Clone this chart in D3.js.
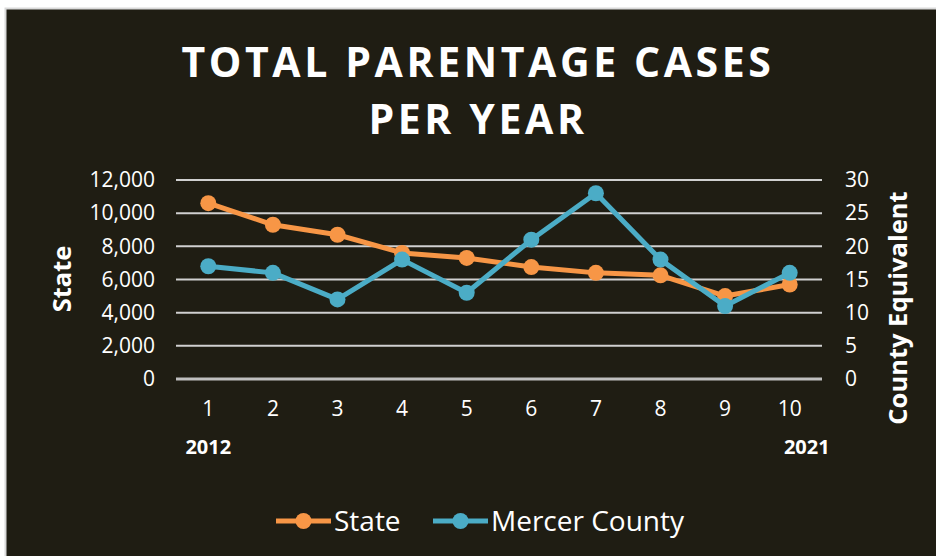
<!DOCTYPE html>
<html>
<head>
<meta charset="utf-8">
<script src="https://cdn.jsdelivr.net/npm/d3@7"></script>
<style>
  html, body { margin: 0; padding: 0; background: #fff; }
  svg { display: block; }
  text { font-family: "Open Sans", sans-serif; fill: #fff; }
</style>
</head>
<body>
<script>
const years = [1, 2, 3, 4, 5, 6, 7, 8, 9, 10];
const stateCases = [10600, 9300, 8700, 7600, 7300, 6750, 6400, 6250, 5000, 5700];
const mercerCases = [17, 16, 12, 18, 13, 21, 28, 18, 11, 16];
const leftTicks = [0, 2000, 4000, 6000, 8000, 10000, 12000];
const rightTicks = [0, 5, 10, 15, 20, 25, 30];
const titleLines = ['TOTAL PARENTAGE CASES', 'PER YEAR'];

const width = 936, height = 556;
const bg = '#1f1d13';
const orange = '#f79646';
const blue = '#4bacc6';

const svg = d3.select('body').append('svg')
  .attr('width', width)
  .attr('height', height);

// outer frame
svg.append('rect')
  .attr('x', 5.5).attr('y', 8.5)
  .attr('width', width).attr('height', height)
  .attr('fill', bg)
  .attr('stroke', '#d9d9d9')
  .attr('stroke-width', 2);

const plot = { left: 176, right: 822, top: 180, bottom: 379 };

const x = d3.scaleBand()
  .domain(years)
  .range([plot.left, plot.right]);

const yLeft = d3.scaleLinear()
  .domain([0, 12000])
  .range([plot.bottom, plot.top]);

const yRight = d3.scaleLinear()
  .domain([0, 30])
  .range([plot.bottom, plot.top]);

// title
svg.append('g').selectAll('text')
  .data(titleLines)
  .join('text')
  .attr('x', 478)
  .attr('y', (d, i) => 77 + i * 57)
  .attr('text-anchor', 'middle')
  .attr('font-size', 41)
  .attr('font-weight', 700)
  .attr('letter-spacing', 3.6)
  .text((d) => d);

// gridlines
svg.append('g').selectAll('line')
  .data(leftTicks)
  .join('line')
  .attr('x1', plot.left).attr('x2', plot.right)
  .attr('y1', (d) => yLeft(d)).attr('y2', (d) => yLeft(d))
  .attr('stroke', (d) => d === 0 ? '#bfbfbf' : '#d0d0d0')
  .attr('stroke-width', (d) => d === 0 ? 3 : 2);

const styleTicks = (g) => {
  g.select('.domain').remove();
  g.selectAll('text')
    .attr('font-size', 21)
    .attr('font-family', 'Lato, sans-serif')
    .attr('fill', '#fff');
};

// left axis
svg.append('g')
  .attr('transform', `translate(${plot.left},0)`)
  .call(d3.axisLeft(yLeft).tickValues(leftTicks).tickFormat(d3.format(',')).tickSize(0).tickPadding(21))
  .call(styleTicks);

// right axis
svg.append('g')
  .attr('transform', `translate(${plot.right},0)`)
  .call(d3.axisRight(yRight).tickValues(rightTicks).tickSize(0).tickPadding(23))
  .call(styleTicks);

// bottom axis
svg.append('g')
  .attr('transform', `translate(0,${plot.bottom})`)
  .call(d3.axisBottom(x).tickSize(0).tickPadding(22))
  .call(styleTicks);

// year labels under first and last category
svg.append('text')
  .attr('x', x(years[0]) + x.bandwidth() / 2)
  .attr('y', 454)
  .attr('text-anchor', 'middle')
  .attr('font-size', 20)
  .attr('font-weight', 700)
  .attr('font-family', 'Lato, sans-serif')
  .text('2012');

svg.append('text')
  .attr('x', x(years[years.length - 1]) + x.bandwidth() / 2 + 40)
  .attr('y', 454)
  .attr('text-anchor', 'end')
  .attr('font-size', 20)
  .attr('font-weight', 700)
  .attr('font-family', 'Lato, sans-serif')
  .text('2021');

// axis titles
svg.append('text')
  .attr('transform', 'translate(71,279) rotate(-90)')
  .attr('text-anchor', 'middle')
  .attr('font-size', 25.5)
  .attr('font-weight', 700)
  .text('State');

svg.append('text')
  .attr('transform', 'translate(907,308) rotate(-90)')
  .attr('text-anchor', 'middle')
  .attr('font-size', 25.5)
  .attr('font-weight', 700)
  .text('County Equivalent');

const cx = (d, i) => x(years[i]) + x.bandwidth() / 2;

const drawSeries = (values, yScale, color) => {
  const g = svg.append('g');
  g.append('path')
    .datum(values)
    .attr('fill', 'none')
    .attr('stroke', color)
    .attr('stroke-width', 5)
    .attr('stroke-linejoin', 'round')
    .attr('d', d3.line().x(cx).y((d) => yScale(d)));
  g.selectAll('circle')
    .data(values)
    .join('circle')
    .attr('cx', cx)
    .attr('cy', (d) => yScale(d))
    .attr('r', 8)
    .attr('fill', color);
};

drawSeries(stateCases, yLeft, orange);
drawSeries(mercerCases, yRight, blue);

// legend
const legendItems = [
  { name: 'State', color: orange, x: 276 },
  { name: 'Mercer County', color: blue, x: 433 }
];
const legend = svg.append('g').selectAll('g')
  .data(legendItems)
  .join('g')
  .attr('transform', (d) => `translate(${d.x},521)`);
legend.append('line')
  .attr('x1', 0).attr('x2', 55)
  .attr('stroke', (d) => d.color)
  .attr('stroke-width', 5);
legend.append('circle')
  .attr('cx', 27.5).attr('r', 8)
  .attr('fill', (d) => d.color);
legend.append('text')
  .attr('x', 58)
  .attr('y', 0)
  .attr('dy', '0.35em')
  .attr('font-size', 28)
  .attr('font-family', 'Lato, sans-serif')
  .text((d) => d.name);
</script>
</body>
</html>
